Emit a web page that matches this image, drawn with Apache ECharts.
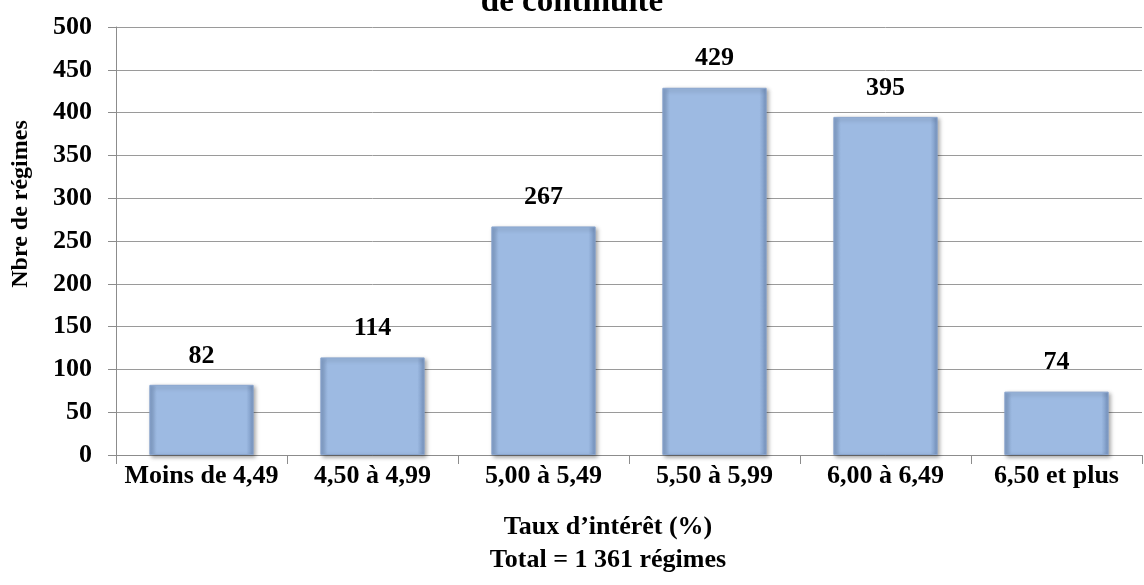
<!DOCTYPE html>
<html>
<head>
<meta charset="utf-8">
<script src="https://cdn.jsdelivr.net/npm/echarts@6/dist/echarts.min.js"></script>
<style>
  html, body { margin: 0; padding: 0; background: #fff; }
  #chart { width: 1144px; height: 585px; }
</style>
</head>
<body>
<div id="chart"></div>
<script>
// données du graphique
var categories = ['Moins de 4,49', '4,50 à 4,99', '5,00 à 5,49', '5,50 à 5,99', '6,00 à 6,49', '6,50 et plus'];
var regimes = [82, 114, 267, 429, 395, 74];
var yTicks = [0, 50, 100, 150, 200, 250, 300, 350, 400, 450, 500];

var police = '"Liberation Serif", "Times New Roman", serif';

var myChart = echarts.init(document.getElementById('chart'));
myChart.setOption({
    animation: false,
    backgroundColor: '#fff',
    title: {
        text: 'de continuité',
        left: 'center',
        top: -19,
        textStyle: { fontFamily: police, fontWeight: 'bold', fontSize: 33, color: '#000' }
    },
    grid: { left: 116, right: 2, top: 27, bottom: 130 },
    xAxis: {
        type: 'category',
        data: categories,
        axisLine: { lineStyle: { color: '#8c8c8c', width: 1 } },
        axisTick: { show: true, length: 9, lineStyle: { color: '#8c8c8c' } },
        axisLabel: { interval: 0, fontFamily: police, fontWeight: 'bold', fontSize: 26, color: '#000', margin: 8 }
    },
    yAxis: {
        type: 'value',
        min: yTicks[0],
        max: yTicks[yTicks.length - 1],
        interval: 50,
        axisLine: { show: true, lineStyle: { color: '#8c8c8c', width: 1 } },
        axisTick: { show: true, length: 8, lineStyle: { color: '#8c8c8c' } },
        splitLine: { lineStyle: { color: '#9a9a9a', width: 1 } },
        axisLabel: { fontFamily: police, fontWeight: 'bold', fontSize: 26, color: '#000', margin: 24 }
    },
    graphic: [
        {
            type: 'text', x: 21, y: 204, rotation: Math.PI / 2,
            style: { text: 'Nbre de régimes', fontFamily: police, fontWeight: 'bold', fontSize: 24, fill: '#000', align: 'center', verticalAlign: 'middle' }
        },
        {
            type: 'text', x: 608, y: 527,
            style: { text: 'Taux d’intérêt (%)', fontFamily: police, fontWeight: 'bold', fontSize: 26, fill: '#000', align: 'center', verticalAlign: 'middle' }
        },
        {
            type: 'text', x: 608, y: 560,
            style: { text: 'Total = 1 361 régimes', fontFamily: police, fontWeight: 'bold', fontSize: 26, fill: '#000', align: 'center', verticalAlign: 'middle' }
        }
    ],
    series: [{
        type: 'bar',
        data: regimes,
        barWidth: '61%',
        itemStyle: {
            color: new echarts.graphic.LinearGradient(0, 0, 1, 0, [
                { offset: 0, color: '#7f9cc6' },
                { offset: 0.07, color: '#9dbae2' },
                { offset: 0.93, color: '#9dbae2' },
                { offset: 1, color: '#7390bb' }
            ]),
            borderColor: '#8aa6cf',
            borderWidth: 1,
            shadowColor: 'rgba(0,0,0,0.35)',
            shadowBlur: 4,
            shadowOffsetX: 2,
            shadowOffsetY: 2
        },
        label: {
            show: true,
            position: 'top',
            distance: 16,
            fontFamily: police,
            fontWeight: 'bold',
            fontSize: 26,
            color: '#000'
        }
    }]
});
</script>
</body>
</html>
